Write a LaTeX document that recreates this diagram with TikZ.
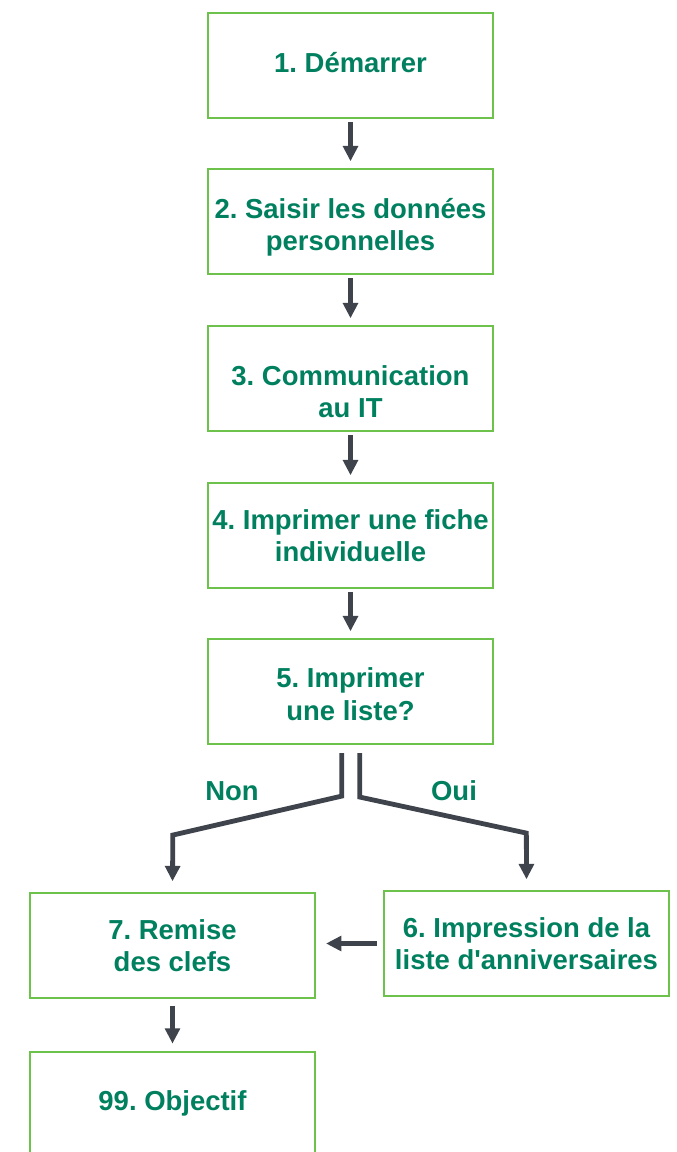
\documentclass[tikz,border=0pt]{standalone}
\usepackage{fontspec}
\setmainfont{Liberation Sans}
\usetikzlibrary{arrows.meta}
\definecolor{boxgreen}{HTML}{6DC24B}
\definecolor{txtgreen}{HTML}{00805F}
\definecolor{arrgray}{HTML}{3E434C}
\frenchspacing
\tikzset{
  stepbox/.style={draw=boxgreen, line width=1.6pt, fill=white, minimum width=213.75pt, minimum height=78.75pt,
    inner sep=0pt},
  boxtext/.style={text=txtgreen, inner sep=0pt, align=center,
    font=\fontsize{20.6pt}{24.4pt}\selectfont\bfseries},
  arr/.style={draw=arrgray, line width=3.6pt, -{Triangle[length=11.5pt, width=11pt]}}
}
\begin{document}
\begin{tikzpicture}[x=0.75pt, y=-0.75pt]
\useasboundingbox (0,0) rectangle (677,1152);
\node[stepbox, label={[boxtext, yshift=2pt]center:1. Démarrer}] (b1) at (350.5,65.5) {};
\node[stepbox, label={[boxtext, yshift=-4.5pt]center:2. Saisir les données\\personnelles}] (b2) at (350.5,221.5) {};
\node[stepbox, label={[boxtext, yshift=-10pt]center:3. Communication\\au IT}] (b3) at (350.5,378.5) {};
\node[stepbox, label={[boxtext]center:4. Imprimer une fiche\\individuelle}] (b4) at (350.5,535.5) {};
\node[stepbox, label={[boxtext, yshift=-2pt]center:5. Imprimer\\une liste?}] (b5) at (350.5,691.5) {};
\node[stepbox, label={[boxtext]center:7. Remise\\des clefs}] (b7) at (172.5,945.5) {};
\node[stepbox, label={[boxtext]center:6. Impression de la\\liste d\textquotesingle anniversaires}] (b6) at (526.5,943.5) {};
\node[stepbox, label={[boxtext, yshift=1pt]center:99. Objectif}] (b99) at (172.5,1104.5) {};
\node[boxtext] (non) at (232,791) {Non};
\node[boxtext] (oui) at (454,791) {Oui};
\draw[arr, shorten <=2.5pt, shorten >=5pt] (b1) -- (b2);
\draw[arr, shorten <=2.5pt, shorten >=5pt] (b2) -- (b3);
\draw[arr, shorten <=2.5pt, shorten >=5pt] (b3) -- (b4);
\draw[arr, shorten <=2.5pt, shorten >=5pt] (b4) -- (b5);
\draw[arr] ([xshift=-6.5pt,yshift=-6pt]b5.south) -- ++(0,43) -- ++(-169,39) -- ([yshift=8pt]b7.north);
\draw[arr] ([xshift=7pt,yshift=-6pt]b5.south) -- ++(0,44) -- ++(166.5,36) -- ([yshift=8pt]b6.north);
\draw[arr, shorten <=4.5pt, shorten >=7.5pt] (b6.west) -- (b6.west -| b7.east);
\draw[arr, shorten <=5pt, shorten >=5.5pt] (b7) -- (b99);
\end{tikzpicture}
\end{document}
